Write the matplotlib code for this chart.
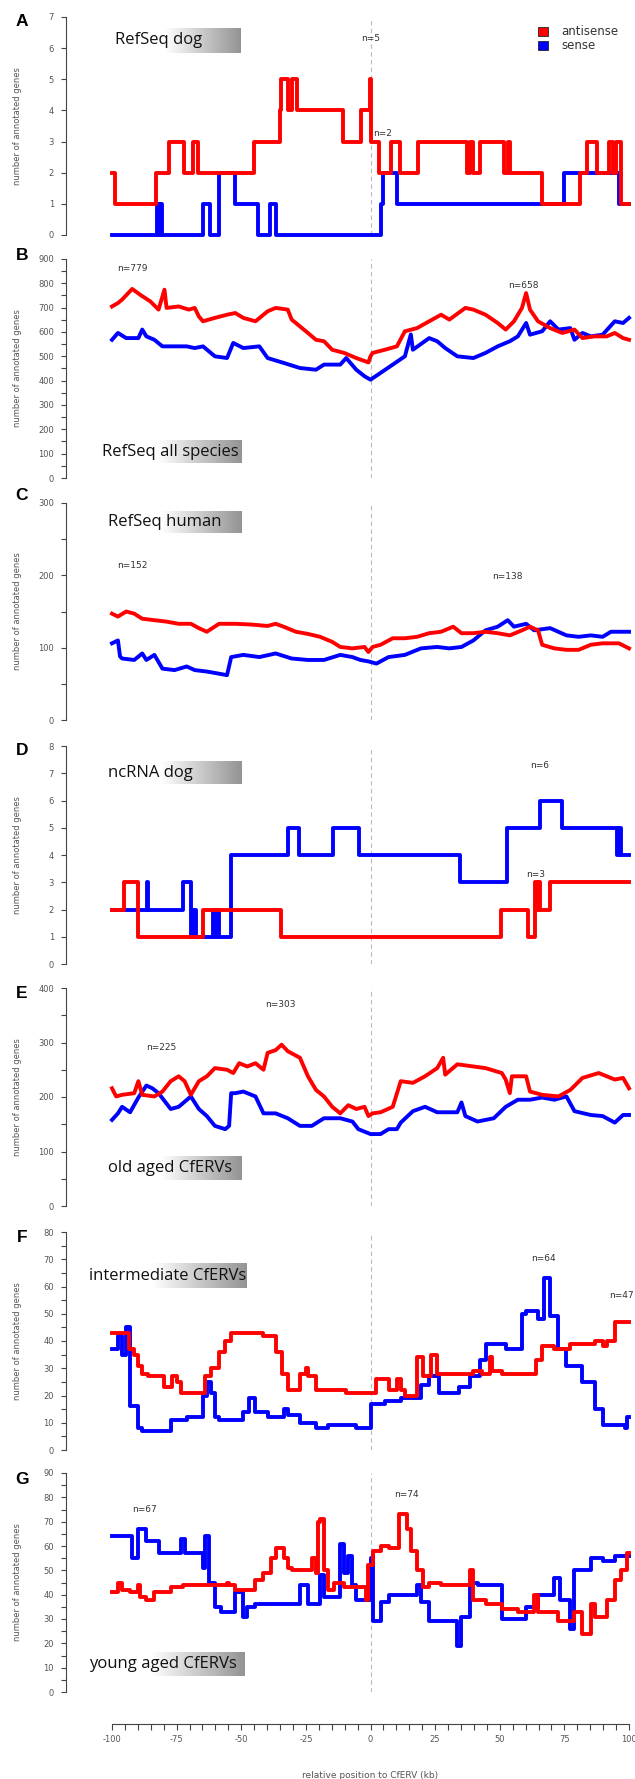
import numpy as np
import matplotlib
matplotlib.use("Agg")
import matplotlib.pyplot as plt
from matplotlib.patches import Rectangle

plt.rcParams["axes.unicode_minus"] = False

# ---- data (x in kb relative to CfERV, y = number of annotated genes) ----
# A: RefSeq dog (step)
a_red_x = [-100, -99, -83, -78, -72, -68.7, -66.9, -45, -35.2, -34.7, -32, -30.2, -28.6, -10.5, -3.6, -0.2, 0.3,
           3.1, 7.8, 11.4, 18.4, 37.5, 38.6, 39.5, 42.2, 51.6, 53.1, 53.9, 66.4, 81.2, 83.6, 87.5, 92.2, 93.7,
           94.8, 97]
a_red_y = [2, 1, 2, 3, 2, 3, 2, 3, 4, 5, 4, 5, 4, 3, 4, 5, 3,
           2, 3, 2, 3, 2, 3, 2, 3, 2, 3, 2, 1, 2, 3, 2, 3, 2,
           3, 1]
a_blue_x = [-100, -82.7, -82, -81.5, -80.8, -64.8, -62, -58.6, -52.3, -43.7, -38.7, -36.7, 4.2, 5, 10.2, 75, 96.1]
a_blue_y = [0, 1, 0, 1, 0, 1, 0, 2, 1, 0, 1, 0, 1, 2, 1, 2, 1]

# B: RefSeq all species
b_red_x = [-100, -97.7, -96.1, -92.2, -89.1, -85.2, -82, -79.7, -78.9, -74.2, -70.3, -68, -66.4, -64.8, -60.2,
           -55.5, -52.3, -49.2, -44.5, -39.8, -36.7, -32, -30.5, -24.2, -21.1, -18, -14.8, -10.2, -5.5, -0.8, 0,
           0.8, 5.5, 10.2, 13.3, 18, 22.7, 27.3, 30.5, 36.7, 39.8, 44.5, 49.2, 52.3, 55.5, 58.6, 60.2, 61.7,
           64.8, 69.5, 74.2, 78.9, 82, 86.7, 91.4, 94.5, 97.7, 100]
b_red_y = [705, 719, 733, 777, 753, 726, 692, 774, 699, 705, 692, 699, 664, 644, 658,
           671, 678, 658, 644, 685, 699, 692, 651, 596, 568, 562, 527, 514, 493, 475, 500,
           514, 527, 541, 603, 616, 644, 671, 651, 699, 692, 671, 637, 610, 644, 699, 760, 692,
           644, 616, 596, 610, 575, 582, 582, 596, 575, 568]
b_blue_x = [-100, -97.7, -94.5, -89.8, -88.3, -86.7, -83.6, -80.5, -75.8, -71.1, -68, -64.8, -60.2, -55.5,
            -53.1, -49.2, -43, -39.8, -33.6, -27.3, -21.1, -18, -11.7, -9.4, -5.5, -2.3, 0, 3.9, 8.6, 13.3,
            15.6, 16.4, 22.7, 25.8, 28.9, 33.6, 39.8, 44.5, 49.2, 53.9, 57, 60.2, 61.7, 66.4, 69.5, 72.7,
            77.3, 78.9, 82, 85.2, 89.8, 94.5, 97.7, 100]
b_blue_y = [568, 596, 575, 575, 610, 582, 568, 541, 541, 541, 534, 541, 500, 493,
            555, 534, 541, 493, 473, 452, 445, 466, 466, 493, 445, 418, 404, 432, 466, 500,
            590, 527, 575, 562, 534, 500, 493, 514, 541, 562, 582, 637, 589, 603, 644, 610,
            616, 568, 596, 582, 589, 644, 637, 658]

# C: RefSeq human
c_red_x = [-100, -97.7, -94.5, -91.4, -88.3, -83.6, -78.9, -74.2, -69.5, -66.4, -63.3, -58.6, -52.3, -46.1,
           -39.8, -36.7, -33.6, -28.9, -24.2, -19.5, -14.8, -11.7, -7, -2.3, -0.8, 0.8, 3.9, 8.6, 13.3, 18,
           22.7, 27.3, 32, 35.2, 39.8, 44.5, 49.2, 53.9, 58.6, 61.7, 64.8, 66.4, 71.1, 75.8, 80.5, 85.2,
           89.8, 93, 96.1, 100]
c_red_y = [147, 143, 150, 147, 140, 138, 136, 133, 133, 127, 122, 133, 133, 132,
           130, 133, 129, 122, 119, 115, 108, 101, 99, 101, 94, 101, 104, 113, 113, 115,
           120, 122, 129, 120, 120, 122, 120, 117, 124, 129, 124, 104, 99, 97, 97, 104,
           106, 106, 106, 99]
c_blue_x = [-100, -97.7, -96.9, -96.1, -91.4, -88.3, -86.7, -83.6, -80.5, -75.8, -71.1, -68, -63.3, -58.6,
            -55.5, -53.9, -49.2, -43, -36.7, -30.5, -24.2, -18, -11.7, -7, -3.9, -0.8, 2.3, 7, 13.3, 19.5,
            25.8, 30.5, 35.2, 39.8, 44.5, 49.2, 53.1, 55.5, 60.2, 63.3, 69.5, 75.8, 80.5, 85.2, 89.8, 93,
            97.7, 100]
c_blue_y = [106, 110, 88, 85, 83, 92, 83, 90, 71, 69, 74, 69, 67, 64,
            62, 87, 90, 87, 92, 85, 83, 83, 90, 87, 83, 81, 78, 87, 90, 99,
            101, 99, 101, 110, 124, 129, 138, 129, 133, 124, 127, 117, 115, 117, 115, 122,
            122, 122]

# D: ncRNA dog (step)
d_red_x = [-100, -95.3, -89.8, -64.8, -34.7, 50.3, 60.9, 63.6, 64.3, 64.8, 65.6, 69.5]
d_red_y = [2, 3, 1, 2, 1, 2, 1, 3, 2, 3, 2, 3]
d_blue_x = [-100, -86.4, -85.9, -72.7, -69.5, -69, -68.5, -68, -67.5, -60.9, -60.2, -59.5, -58.6, -53.9,
            -32, -27.8, -14.4, -4.4, 34.7, 52.8, 65.6, 74.2, 95.3, 96.1, 96.9]
d_blue_y = [2, 3, 2, 3, 1, 2, 1, 2, 1, 2, 1, 2, 1, 4,
            5, 4, 5, 4, 3, 5, 6, 5, 4, 5, 4]

# E: old aged CfERVs
e_red_x = [-100, -98.4, -96.1, -91.4, -89.8, -88.3, -83.6, -80.5, -77.3, -74.2, -71.9, -69.5, -66.4, -63.3,
           -60.2, -55.5, -53.1, -50.8, -47.7, -44.5, -41.4, -39.8, -36.7, -34.4, -32, -27.3, -24.2, -21.1,
           -18, -14.8, -11.7, -8.6, -5.5, -2.3, -0.8, 0.8, 3.9, 8.6, 11.7, 16.4, 21.1, 25.8, 28.1, 28.9,
           33.6, 39.8, 44.5, 50.8, 52.3, 53.9, 54.7, 60.2, 61.7, 66.4, 72.7, 77.3, 82, 88.3, 91.4, 94.5,
           97.7, 100]
e_red_y = [216, 201, 204, 207, 229, 204, 201, 210, 229, 238, 229, 204, 229, 238,
           253, 250, 244, 262, 256, 262, 250, 281, 286, 296, 284, 272, 238, 213,
           201, 182, 170, 185, 178, 182, 165, 170, 172, 182, 229, 226, 238, 253, 272, 241,
           260, 256, 253, 244, 232, 207, 238, 238, 210, 204, 201, 213, 235, 244, 238, 232,
           235, 216]
e_blue_x = [-100, -97.7, -96.1, -93, -89.8, -86.7, -84.4, -82, -77.3, -74.2, -69.5, -66.4, -63.3, -60.2,
            -56.2, -54.7, -53.9, -52.3, -49.2, -44.5, -41.4, -36.7, -32, -27.3, -22.7, -18, -11.7, -7,
            -4.7, 0, 3.9, 7, 10.2, 11.7, 16.4, 21.1, 25.8, 33.6, 35.2, 36.7, 41.4, 47.7, 52.3, 57, 61.7,
            66.4, 71.1, 75.8, 78.9, 85.2, 89.8, 94.5, 97.7, 100]
e_blue_y = [158, 170, 182, 172, 199, 221, 216, 207, 178, 182, 201, 178, 165, 147,
            141, 147, 207, 207, 210, 201, 170, 170, 161, 147, 147, 161, 161, 155,
            141, 132, 132, 141, 141, 153, 174, 182, 172, 172, 190, 165, 155, 161, 182, 195, 195,
            199, 195, 201, 174, 167, 165, 153, 167, 167]

# F: intermediate CfERVs (step)
f_red_x = [-100, -93.3, -91.4, -89.8, -88.3, -85.9, -79.7, -76.6, -75, -73.4, -64.1, -61.7, -58.6, -56.2,
           -53.9, -41.4, -36.7, -34.4, -32, -27.3, -25, -24.2, -21.1, -9.4, 2.3, 7, 10.2, 11.7, 13.3, 18,
           20.3, 23.4, 25.8, 39.8, 43, 46.1, 46.9, 50.8, 64.1, 66.4, 71.1, 77.3, 86.7, 89.8, 91.4, 94.5]
f_red_y = [43, 37, 35, 31, 28, 27, 23, 27, 25, 21, 27, 30, 36, 40,
           43, 42, 36, 28, 22, 28, 30, 27, 22, 21, 26, 22, 26, 22, 20, 34,
           27, 35, 28, 29, 28, 34, 29, 28, 33, 38, 37, 39, 40, 38, 40, 47]
f_blue_x = [-100, -97.7, -96.1, -94.5, -93, -89.8, -88.3, -77.3, -71.1, -64.8, -63.3, -61.7, -60.2, -58.6,
            -49.2, -46.9, -44.5, -39.8, -33.6, -32, -27.3, -21.1, -16.4, -5.5, 0, 5.5, 11.7, 19.5, 22.7,
            26.6, 34.4, 38.3, 42.2, 44.5, 52.3, 58.6, 60.2, 64.8, 67.2, 69.5, 72.7, 75.8, 82, 86.7, 89.8,
            98.4, 99.2]
f_blue_y = [37, 42, 35, 45, 16, 8, 7, 11, 12, 20, 25, 21, 12, 11,
            14, 19, 14, 12, 15, 13, 10, 8, 9, 8, 17, 18, 19, 24, 27,
            21, 23, 27, 33, 39, 37, 50, 51, 48, 63, 49, 37, 31, 25, 15, 9,
            8, 12]

# G: young aged CfERVs (step)
g_red_x = [-100, -97.7, -96.1, -93, -89.8, -89.1, -86.7, -83.6, -77.3, -72.7, -55.5, -54.7, -52.3, -44.5,
           -41.4, -38.3, -36.7, -33.6, -32, -30.5, -22.7, -21.1, -20.3, -19.5, -18, -16.4, -14.1, -10.2,
           -1.6, -0.8, 0.8, 3.9, 7, 10.9, 14.1, 15.6, 18, 20.3, 22.7, 27.3, 38.3, 39.8, 44.5, 50.8, 57,
           63.3, 64.8, 72.7, 78.9, 82, 85.2, 86.7, 91.4, 94.5, 96.9, 99.2]
g_red_y = [41, 45, 42, 41, 44, 39, 38, 41, 43, 44, 45, 44, 42, 46,
           49, 55, 59, 55, 51, 50, 55, 49, 70, 71, 50, 42, 45, 43,
           38, 52, 58, 60, 59, 73, 67, 58, 50, 43, 45, 44, 50, 38, 36, 34, 33,
           40, 33, 29, 33, 24, 36, 31, 38, 46, 50, 57]
g_blue_x = [-100, -92.2, -89.8, -86.7, -82, -73.4, -71.9, -64.8, -64.1, -62.5, -60.2, -57.8, -52.3, -49.2,
            -47.7, -44.5, -27.3, -24.2, -19.5, -18, -11.7, -10.2, -8.6, -7, -5.5, 0, 0.8, 3.9, 7, 18, 19.5,
            22.7, 33.6, 35.2, 38.3, 41.4, 50.8, 60.2, 64.8, 71.1, 73.4, 77.3, 78.9, 85.2, 89.8, 94.5]
g_blue_y = [64, 55, 67, 62, 57, 63, 57, 51, 64, 45, 35, 33, 41, 31,
            35, 36, 44, 36, 48, 39, 61, 49, 56, 44, 38, 55, 29, 37, 40, 44, 37,
            29, 19, 31, 45, 44, 30, 35, 40, 47, 38, 26, 50, 55, 54, 56]

panel_letters = ["A", "B", "C", "D", "E", "F", "G"]
panel_titles = ["RefSeq dog", "RefSeq all species", "RefSeq human", "ncRNA dog",
                "old aged CfERVs", "intermediate CfERVs", "young aged CfERVs"]
y_max = [7, 900, 300, 8, 400, 80, 90]
y_major = [1, 100, 100, 1, 100, 10, 10]
y_minor = [1, 50, 50, 1, 50, 5, 5]
n_labels = [[(0, 6.3, "n=5"), (4.7, 3.25, "n=2")],
            [(-92, 863, "n=779"), (59, 792, "n=658")],
            [(-92, 214, "n=152"), (53, 198, "n=138")],
            [(65.6, 7.3, "n=6"), (64, 3.3, "n=3")],
            [(-81, 290, "n=225"), (-35, 369, "n=303")],
            [(67, 70.2, "n=64"), (97, 56.8, "n=47")],
            [(-87.5, 75.1, "n=67"), (14, 81.3, "n=74")]]
x_ticks = np.arange(-100, 101, 25)

series = [(a_red_x, a_red_y, a_blue_x, a_blue_y, True),
          (b_red_x, b_red_y, b_blue_x, b_blue_y, False),
          (c_red_x, c_red_y, c_blue_x, c_blue_y, False),
          (d_red_x, d_red_y, d_blue_x, d_blue_y, True),
          (e_red_x, e_red_y, e_blue_x, e_blue_y, False),
          (f_red_x, f_red_y, f_blue_x, f_blue_y, True),
          (g_red_x, g_red_y, g_blue_x, g_blue_y, True)]

# ---- layout (pixels) ----
W, H = 635, 1779
tops = [17, 259, 503, 746, 988, 1232, 1473]
bots = [235, 478, 720, 964, 1206, 1450, 1692]
letter_y = [21, 255, 496, 751, 993, 1237, 1480]
boxes = [(113, 241, 28, 53), (100, 241, 440, 463), (106, 241, 511, 533), (106, 241, 761, 784),
         (106, 241, 1156, 1180), (87, 247, 1263, 1288), (87, 245, 1652, 1676)]
X0, X1 = 112, 629
SPINE = 66
RED, BLUE = "#ff0000", "#0000ff"
GREY = "#555555"

fig = plt.figure(figsize=(W / 100, H / 100), dpi=100)
fig.patch.set_facecolor("white")

grad = np.concatenate([np.ones(40), np.linspace(1, 0.58, 60)])[None, :]

for i in range(7):
    top, bot = tops[i], bots[i]
    ax = fig.add_axes([X0 / W, 1 - bot / H, (X1 - X0) / W, (bot - top) / H])
    ax.set_xlim(-100, 100)
    ax.set_ylim(0, y_max[i])
    ax.patch.set_alpha(0)
    for s in ["top", "right", "bottom"]:
        ax.spines[s].set_visible(False)
    ax.spines["left"].set_position(("outward", (X0 - SPINE) * 0.72))
    ax.spines["left"].set_bounds(0, y_max[i])
    ax.spines["left"].set_color("#444444")
    ax.spines["left"].set_linewidth(0.8)
    ax.set_xticks([])
    ax.set_yticks(np.arange(0, y_max[i] + 0.01, y_major[i]))
    ax.set_yticks(np.arange(0, y_max[i] + 0.01, y_minor[i]), minor=True)
    ax.tick_params(axis="y", which="both", length=3.6, width=0.8, color="#444444",
                   labelsize=6, labelcolor=GREY, pad=5)

    ax.plot([0, 0], [0, y_max[i]], color="#bbbbbb", lw=0.8, ls=(0, (4, 3)), zorder=1)

    rx, ry, bx, by, step = series[i]
    if step:
        ax.step(rx + [100], ry + [ry[-1]], where="post", color=RED, lw=2.8, clip_on=False, zorder=3)
        ax.step(bx + [100], by + [by[-1]], where="post", color=BLUE, lw=2.8, clip_on=False, zorder=2)
    else:
        ax.plot(rx, ry, color=RED, lw=2.8, clip_on=False, zorder=3)
        ax.plot(bx, by, color=BLUE, lw=2.8, clip_on=False, zorder=2)

    for nx, ny, txt in n_labels[i]:
        ax.text(nx, ny, txt, fontsize=6.5, color="#333333", ha="center", va="center")

    fig.text(18 / W, 1 - (top + bot) / 2 / H, "number of annotated genes", rotation=90,
             fontsize=6, color=GREY, ha="center", va="center")
    fig.text(22 / W, 1 - letter_y[i] / H, panel_letters[i], fontsize=12.5, fontweight="bold",
             family="Liberation Sans", ha="center", va="center")

    # title box with grey gradient
    x0, x1, y0, y1 = boxes[i]
    bax = fig.add_axes([x0 / W, 1 - y1 / H, (x1 - x0) / W, (y1 - y0) / H])
    bax.imshow(grad, aspect="auto", cmap="gray", vmin=0, vmax=1, extent=[0, 1, 0, 1])
    bax.axis("off")
    fig.text((x0 + 2) / W, 1 - (y0 + y1) / 2 / H, panel_titles[i], fontsize=12,
             family="Open Sans", color="#111111", ha="left", va="center")

# legend
for k, (col, lab) in enumerate([(RED, "antisense"), (BLUE, "sense")]):
    yy = 27 + k * 14
    fig.patches.append(Rectangle((538 / W, 1 - (yy + 9) / H), 10 / W, 9 / H, transform=fig.transFigure,
                                 facecolor=col, edgecolor="#222222", lw=0.6))
    fig.text(561 / W, 1 - (yy + 4.5) / H, lab, fontsize=8.5, color="#333333", ha="left", va="center")

# bottom x axis
xax = fig.add_axes([X0 / W, 1 - 1724 / H, (X1 - X0) / W, 1 / H])
xax.set_xlim(-100, 100)
xax.patch.set_alpha(0)
for s in ["top", "right", "left"]:
    xax.spines[s].set_visible(False)
xax.spines["bottom"].set_color("#444444")
xax.spines["bottom"].set_linewidth(0.8)
xax.set_yticks([])
xax.set_xticks(x_ticks)
xax.set_xticks(np.arange(-100, 101, 5), minor=True)
xax.tick_params(axis="x", which="both", length=4, width=0.8, color="#444444",
                labelsize=6, labelcolor=GREY, pad=4)
fig.text((X0 + X1) / 2 / W, 1 - 1775 / H, "relative position to CfERV (kb)", fontsize=6.5,
         color=GREY, ha="center", va="center")

fig.savefig("out.png", dpi=100)
